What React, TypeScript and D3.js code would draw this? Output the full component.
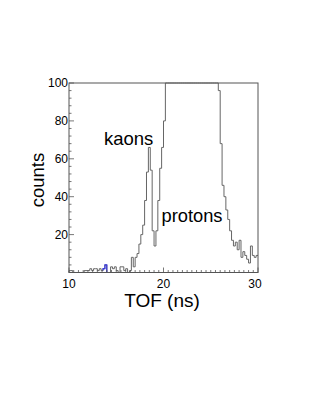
import React from "react";
import * as d3 from "d3";

// TOF histogram, 0.2 ns bins from 10 to 30 ns (lower edges)
const binLow = 10;
const binWidth = 0.2;
const counts = [
  // 10.0 - 11.8
  1, 1, 0, 0, 0, 0, 0, 0, 1, 1,
  // 12.0 - 13.8
  1, 2, 1, 2, 2, 1, 2, 1, 2, 4,
  // 14.0 - 15.8
  0, 0, 3, 2, 3, 1, 0, 3, 3, 1,
  // 16.0 - 17.8
  2, 0, 1, 8, 3, 8, 10, 15, 20, 25,
  // 18.0 - 19.8
  38, 53, 66, 54, 22, 14, 22, 38, 55, 66,
  // 20.0 - 21.8
  80, 130, 180, 240, 300, 370, 430, 480, 520, 540,
  // 22.0 - 23.8
  545, 530, 500, 470, 440, 420, 410, 400, 395, 390,
  // 24.0 - 25.8
  380, 360, 330, 290, 250, 210, 170, 130, 110, 96,
  // 26.0 - 27.8
  68, 46, 40, 33, 28, 22, 17, 14, 16, 12,
  // 28.0 - 29.8
  17, 8, 11, 9, 7, 5, 14, 9, 8, 9,
];
// bins highlighted in blue (lower edges, ns)
const blueBins = [13.6, 13.8];

const xTickLabels = ["10", "20", "30"];
const xTickValues = [10, 20, 30];
const yTickValues = [20, 40, 60, 80, 100];
const yTickLabels = ["20", "40", "60", "80", "100"];
const annotations = ["kaons", "protons"];

const W = 324;
const H = 419;
const FONT = "'Liberation Sans', Arial, sans-serif";

export default function App() {
  const x = d3.scaleLinear().domain([10, 30]).range([69, 258]);
  const y = d3.scaleLinear().domain([0, 100]).range([272.5, 83]);
  const yc = (v: number) => y(Math.min(v, 100));

  const bins = counts.map((c, i) => ({ lo: binLow + i * binWidth, hi: binLow + (i + 1) * binWidth, c }));

  // step path
  let path = "";
  bins.forEach((b, i) => {
    const yy = yc(b.c);
    if (i === 0) path += `M${x(b.lo)},${y(0)}L${x(b.lo)},${yy}`;
    else path += `L${x(b.lo)},${yy}`;
    path += `L${x(b.hi)},${yy}`;
  });

  // blue segment
  const blue = bins.filter((b) => blueBins.some((v) => Math.abs(v - b.lo) < 1e-6));
  let bpath = "";
  blue.forEach((b, i) => {
    const idx = bins.indexOf(b);
    const prev = idx > 0 ? bins[idx - 1].c : 0;
    if (i === 0) bpath += `M${x(b.lo)},${yc(prev)}`;
    bpath += `L${x(b.lo)},${yc(b.c)}L${x(b.hi)},${yc(b.c)}`;
    if (i === blue.length - 1) {
      const next = idx < bins.length - 1 ? bins[idx + 1].c : 0;
      bpath += `L${x(b.hi)},${yc(next)}`;
    }
  });

  const xMinor = d3.range(10, 30.001, 0.5);
  const yMinor = d3.range(0, 100.001, 4);

  return (
    <svg
      width={W}
      height={H}
      style={{ position: "absolute", left: 0, top: 0, background: "#fff" }}
      fontFamily={FONT}
    >
      <rect x={0} y={0} width={W} height={H} fill="#fff" />
      {/* histogram */}
      <path d={path} fill="none" stroke="#666" strokeWidth={1} />
      <path d={bpath} fill="none" stroke="#3a3adf" strokeWidth={1.2} />

      {/* frame */}
      <rect x={69} y={83} width={189} height={189.5} fill="none" stroke="#555" strokeWidth={1} />

      {/* x ticks */}
      {xMinor.map((v, i) => {
        const major = Math.abs(v % 10) < 1e-6;
        return (
          <line key={"xm" + i} x1={x(v)} x2={x(v)} y1={y(0)} y2={y(0) - (major ? 5 : 2.5)} stroke="#555" strokeWidth={0.8} />
        );
      })}
      {xTickValues.map((v, i) => (
        <text key={"xl" + i} x={i === 2 ? x(v) - 3 : x(v)} y={287.5} fontSize={12} textAnchor="middle" fill="#000">
          {xTickLabels[i]}
        </text>
      ))}

      {/* y ticks */}
      {yMinor.map((v, i) => {
        const major = Math.abs(v % 20) < 1e-6;
        return (
          <line key={"ym" + i} x1={69} x2={69 + (major ? 5 : 2.5)} y1={y(v)} y2={y(v)} stroke="#555" strokeWidth={0.8} />
        );
      })}
      {yTickValues.map((v, i) => (
        <text key={"yl" + i} x={68} y={y(v) + 4.3} fontSize={12} textAnchor="end" fill="#000">
          {yTickLabels[i]}
        </text>
      ))}

      {/* axis titles */}
      <text x={162} y={307} fontSize={19} textAnchor="middle" fill="#000">TOF (ns)</text>
      <text transform={`translate(44,180) rotate(-90)`} fontSize={18.5} textAnchor="middle" fill="#000">counts</text>

      {/* annotations */}
      <text x={104} y={145} fontSize={18.5} fill="#000">{annotations[0]}</text>
      <text x={161.5} y={222} fontSize={18.3} fill="#000">{annotations[1]}</text>
    </svg>
  );
}
